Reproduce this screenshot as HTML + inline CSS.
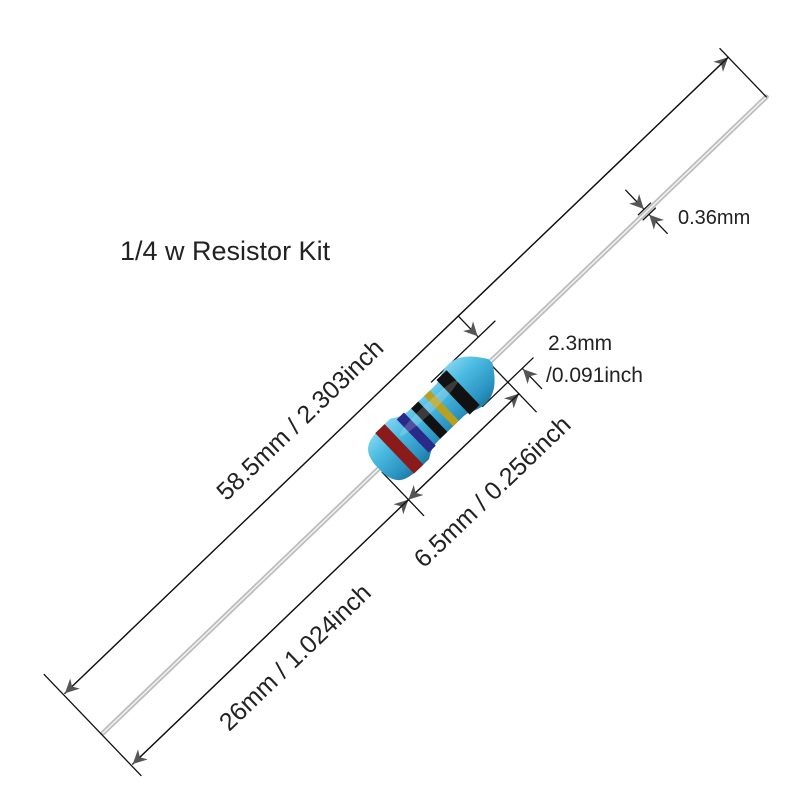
<!DOCTYPE html>
<html><head><meta charset="utf-8"><style>
html,body{margin:0;padding:0;background:#fff}
svg{display:block}
text{font-family:"Liberation Sans",sans-serif;fill:#222}
</style></head><body>
<svg width="800" height="800" viewBox="0 0 800 800">
<defs>
<linearGradient id="body" x1="0" y1="0" x2="0" y2="1">
<stop offset="0" stop-color="#7fd4ef"/><stop offset="0.35" stop-color="#49b9e0"/><stop offset="0.8" stop-color="#2a93c0"/><stop offset="1" stop-color="#1d7aa3"/>
</linearGradient>
<marker id="ar" viewBox="0 0 10 10" refX="10" refY="5" markerWidth="14" markerHeight="14" markerUnits="userSpaceOnUse" orient="auto"><path d="M0,0 L10,5 L0,10 L3,5 z" fill="#555"/></marker>
</defs>
<text x="120" y="260" font-size="27">1/4 w Resistor Kit</text>
<text x="678" y="224" font-size="20">0.36mm</text>
<text x="548" y="350" font-size="21">2.3mm</text>
<text x="546" y="382" font-size="21">/0.091inch</text>
<g transform="translate(103,733) rotate(-43.8)" stroke-linecap="round">
<line x1="0" y1="0" x2="919" y2="0" stroke="#bdbdbd" stroke-width="5"/>
<line x1="0" y1="0" x2="919" y2="0" stroke="#f2f2f2" stroke-width="1.5"/>
<g stroke="#111" stroke-width="1.3" fill="none">
<line x1="-2" y1="-83" x2="-2" y2="57"/>
<line x1="919" y1="-67" x2="919" y2="0"/>
<line x1="382" y1="5" x2="382" y2="65"/>
<line x1="535" y1="2" x2="535" y2="68"/>
<line x1="0" y1="-55" x2="919" y2="-55" marker-end="url(#ar)"/>
<line x1="919" y1="-55" x2="0" y2="-55" marker-end="url(#ar)"/>
<line x1="0" y1="43" x2="382" y2="43" marker-end="url(#ar)"/>
<line x1="382" y1="43" x2="0" y2="43" marker-end="url(#ar)"/>
<line x1="382" y1="43" x2="535" y2="43" marker-end="url(#ar)"/>
<line x1="535" y1="43" x2="382" y2="43" marker-end="url(#ar)"/>
<line x1="480" y1="-26" x2="568" y2="-26"/>
<line x1="500" y1="27" x2="570" y2="27"/>
<line x1="545" y1="-55" x2="545" y2="-27" marker-end="url(#ar)"/>
<line x1="555" y1="55" x2="555" y2="28" marker-end="url(#ar)"/>
<line x1="745" y1="-3.5" x2="762" y2="-3.5"/>
<line x1="745" y1="3.5" x2="762" y2="3.5"/>
<line x1="753" y1="-30" x2="753" y2="-4" marker-end="url(#ar)"/>
<line x1="753" y1="30" x2="753" y2="4" marker-end="url(#ar)"/>
</g>
<g>
<path d="M382,-6 C384,-26 395,-28 415,-28 L425,-28 C435,-21 440,-21 450,-21 L480,-21 C488,-21 492,-27 505,-27 C520,-27 530,-14 537,-3 L537,3 C530,14 520,27 505,27 C492,27 488,21 480,21 L450,21 C440,21 435,21 425,28 L415,28 C395,28 384,26 382,6 Z" fill="url(#body)"/>
<rect x="404" y="-28" width="13" height="56" fill="#8b1a1a"/>
<rect x="429" y="-23" width="10" height="46" fill="#2a2a8a"/>
<rect x="447" y="-21" width="10" height="42" fill="#111"/>
<rect x="465" y="-21" width="8" height="42" fill="#b8a020"/>
<rect x="485" y="-24" width="14" height="48" fill="#111"/>
<ellipse cx="460" cy="-9" rx="40" ry="5" fill="#fff" opacity="0.18"/>
</g>
<text x="359" y="-88" font-size="25" text-anchor="middle" dominant-baseline="middle">58.5mm / 2.303inch</text>
<text x="448" y="97" font-size="25" text-anchor="middle" dominant-baseline="middle">6.5mm / 0.256inch</text>
<text x="191" y="80" font-size="25" text-anchor="middle" dominant-baseline="middle">26mm / 1.024inch</text>
</g>
</svg>
</body></html>
